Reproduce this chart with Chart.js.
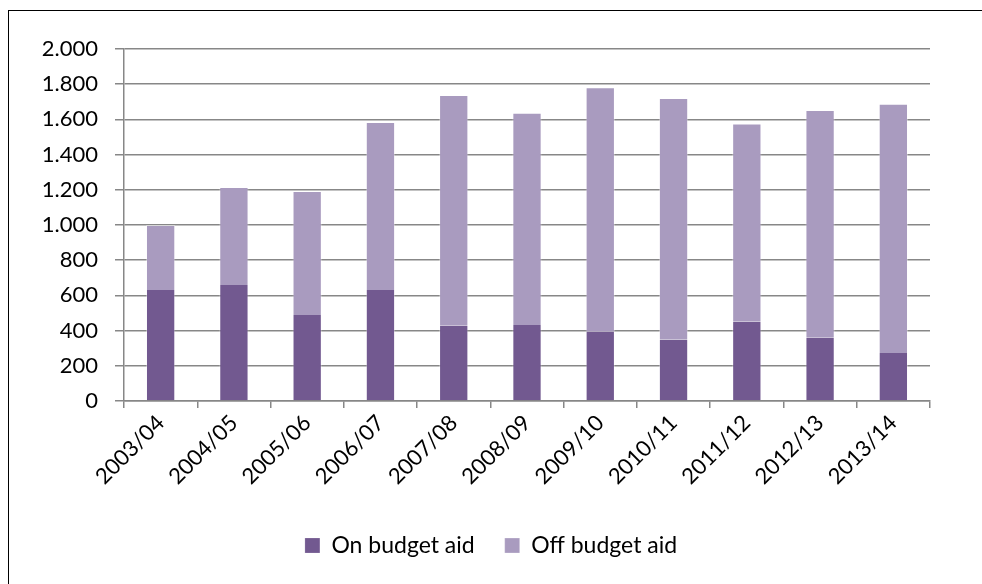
<!DOCTYPE html>
<html>
<head>
<meta charset="utf-8">
<script src="https://cdn.jsdelivr.net/npm/chart.js@4.4.1/dist/chart.umd.min.js"></script>
<style>
  html, body { margin: 0; padding: 0; background: #fff; overflow: hidden; }
  #frame { position: absolute; left: 8px; top: 10px; width: 1000px; height: 600px; border: 1.5px solid #000; box-sizing: border-box; }
  #wrap { position: absolute; left: 0; top: 0; width: 982px; height: 584px; }
</style>
</head>
<body>
<div id="frame"></div>
<div id="wrap"><canvas id="aidChart"></canvas></div>
<script>
// fiscal years and aid amounts
const years = ['2003/04', '2004/05', '2005/06', '2006/07', '2007/08', '2008/09',
               '2009/10', '2010/11', '2011/12', '2012/13', '2013/14'];
const onBudget = [631, 659, 489, 631, 428, 432, 394, 350, 451, 360, 273];
const offBudget = [369, 557, 704, 954, 1311, 1206, 1388, 1372, 1125, 1293, 1416];
const yTicks = [0, 200, 400, 600, 800, 1000, 1200, 1400, 1600, 1800, 2000];

const fontFamily = 'Lato, "Open Sans", sans-serif';
const gridColor = '#878787';

// 1.600 style thousands separator
const fmt = v => v >= 1000 ? Math.floor(v / 1000) + '.' + String(v % 1000).padStart(3, '0') : String(v);

const ctx = document.getElementById('aidChart').getContext('2d');
const chart = new Chart(ctx, {
    type: 'bar',
    data: {
        labels: years,
        datasets: [{
            label: 'On budget aid',
            data: onBudget,
            backgroundColor: '#725990',
            borderColor: 'rgba(255,255,255,0.35)',
            borderWidth: { left: 1, right: 1, top: 0, bottom: 0 },
            barPercentage: 0.8,
            categoryPercentage: 0.5
        }, {
            label: 'Off budget aid',
            data: offBudget,
            backgroundColor: '#A99BBF',
            borderColor: 'rgba(255,255,255,0.35)',
            borderWidth: { left: 1, right: 1, top: 1, bottom: 0 },
            barPercentage: 0.8,
            categoryPercentage: 0.5
        }]
    },
    options: {
        responsive: true,
        maintainAspectRatio: false,
        animation: false,
        layout: { padding: { left: 0, right: 0, top: 49, bottom: 17 } },
        scales: {
            x: {
                stacked: true,
                afterFit: scale => { scale.height = 103; },
                grid: { display: true, drawOnChartArea: false, color: gridColor, lineWidth: 1.5, tickLength: 7, offset: true },
                border: { color: gridColor, width: 1.5 },
                ticks: { color: '#000', font: { family: fontFamily, size: 22 }, maxRotation: 45, minRotation: 45, padding: 2 }
            },
            y: {
                stacked: true,
                min: 0,
                max: 2000,
                afterFit: scale => { scale.width = 124; },
                afterBuildTicks: scale => { scale.ticks = yTicks.map(v => ({ value: v })); },
                grid: { color: gridColor, lineWidth: 1.5, tickLength: 9 },
                border: { color: gridColor, width: 1.5 },
                ticks: { color: '#000', font: { family: fontFamily, size: 22 }, padding: 17, callback: v => fmt(v) }
            },
            // empty right-hand spacer so the legend centres on the whole frame
            yRight: {
                position: 'right',
                min: 0,
                max: 2000,
                afterFit: scale => { scale.width = 52; },
                grid: { display: false },
                border: { display: false },
                ticks: { display: false }
            }
        },
        plugins: {
            legend: {
                position: 'bottom',
                labels: {
                    color: '#000',
                    font: { family: fontFamily, size: 23 },
                    boxWidth: 15,
                    boxHeight: 15,
                    padding: 30
                }
            },
            tooltip: { enabled: false }
        }
    }
});
</script>
</body>
</html>
